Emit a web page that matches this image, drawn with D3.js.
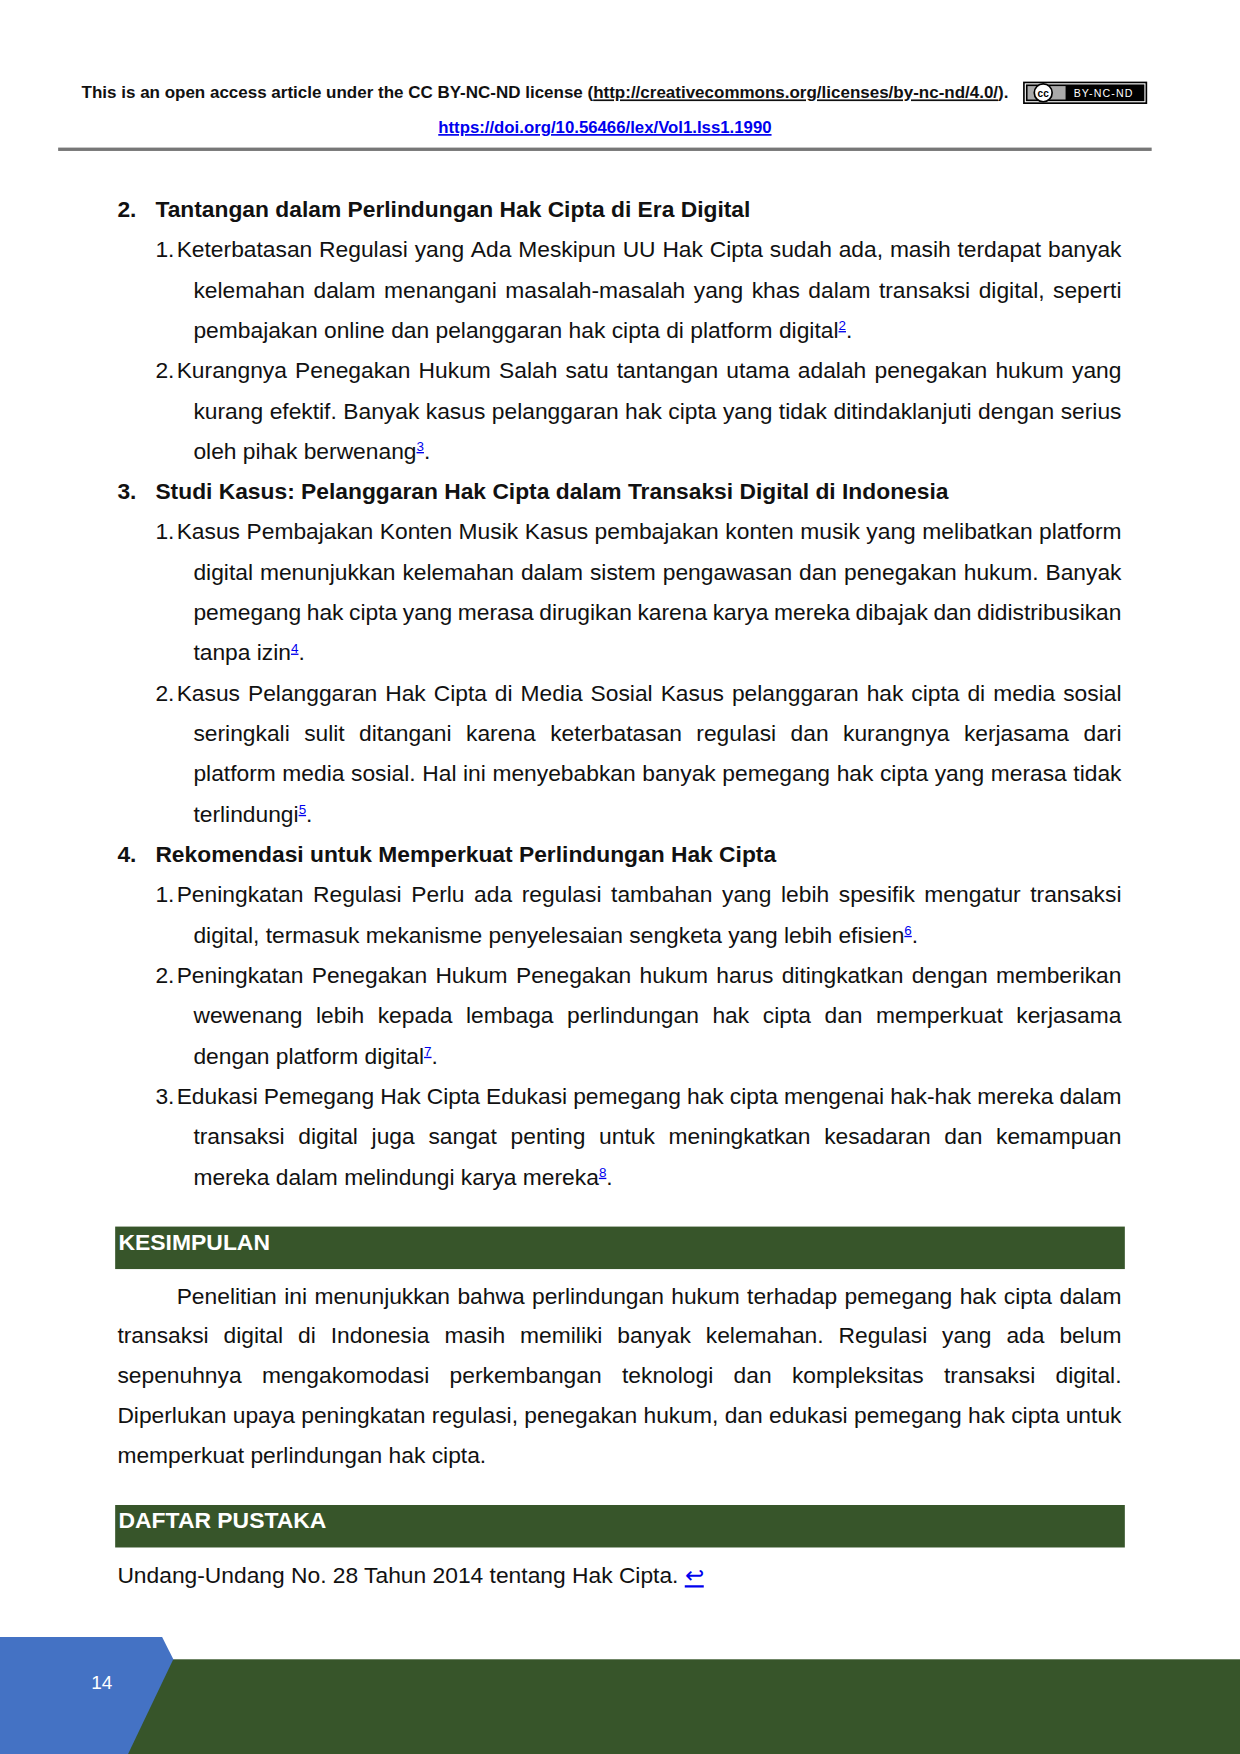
<!DOCTYPE html>
<html><head><meta charset="utf-8">
<script src="https://cdn.jsdelivr.net/npm/d3@7"></script>
<style>body{margin:0;background:#fff}svg{display:block}</style>
</head><body>
<script>
const headerLine = "This is an open access article under the CC BY-NC-ND license (";
const headerLink = "http://creativecommons.org/licenses/by-nc-nd/4.0/";
const doiText = "https://doi.org/10.56466/lex/Vol1.Iss1.1990";
const blocks = [
 {t:"h", n:"2.", text:"Tantangan dalam Perlindungan Hak Cipta di Era Digital"},
 {t:"i", n:"1.", fn:"2", lines:["Keterbatasan Regulasi yang Ada Meskipun UU Hak Cipta sudah ada, masih terdapat banyak","kelemahan dalam menangani masalah-masalah yang khas dalam transaksi digital, seperti","pembajakan online dan pelanggaran hak cipta di platform digital"]},
 {t:"i", n:"2.", fn:"3", lines:["Kurangnya Penegakan Hukum Salah satu tantangan utama adalah penegakan hukum yang","kurang efektif. Banyak kasus pelanggaran hak cipta yang tidak ditindaklanjuti dengan serius","oleh pihak berwenang"]},
 {t:"h", n:"3.", text:"Studi Kasus: Pelanggaran Hak Cipta dalam Transaksi Digital di Indonesia"},
 {t:"i", n:"1.", fn:"4", lines:["Kasus Pembajakan Konten Musik Kasus pembajakan konten musik yang melibatkan platform","digital menunjukkan kelemahan dalam sistem pengawasan dan penegakan hukum. Banyak","pemegang hak cipta yang merasa dirugikan karena karya mereka dibajak dan didistribusikan","tanpa izin"]},
 {t:"i", n:"2.", fn:"5", lines:["Kasus Pelanggaran Hak Cipta di Media Sosial Kasus pelanggaran hak cipta di media sosial","seringkali sulit ditangani karena keterbatasan regulasi dan kurangnya kerjasama dari","platform media sosial. Hal ini menyebabkan banyak pemegang hak cipta yang merasa tidak","terlindungi"]},
 {t:"h", n:"4.", text:"Rekomendasi untuk Memperkuat Perlindungan Hak Cipta"},
 {t:"i", n:"1.", fn:"6", lines:["Peningkatan Regulasi Perlu ada regulasi tambahan yang lebih spesifik mengatur transaksi","digital, termasuk mekanisme penyelesaian sengketa yang lebih efisien"]},
 {t:"i", n:"2.", fn:"7", lines:["Peningkatan Penegakan Hukum Penegakan hukum harus ditingkatkan dengan memberikan","wewenang lebih kepada lembaga perlindungan hak cipta dan memperkuat kerjasama","dengan platform digital"]},
 {t:"i", n:"3.", fn:"8", lines:["Edukasi Pemegang Hak Cipta Edukasi pemegang hak cipta mengenai hak-hak mereka dalam","transaksi digital juga sangat penting untuk meningkatkan kesadaran dan kemampuan","mereka dalam melindungi karya mereka"]}
];
const kesTitle = "KESIMPULAN";
const kesLines = ["Penelitian ini menunjukkan bahwa perlindungan hukum terhadap pemegang hak cipta dalam","transaksi digital di Indonesia masih memiliki banyak kelemahan. Regulasi yang ada belum","sepenuhnya mengakomodasi perkembangan teknologi dan kompleksitas transaksi digital.","Diperlukan upaya peningkatan regulasi, penegakan hukum, dan edukasi pemegang hak cipta untuk","memperkuat perlindungan hak cipta."];
const dafTitle = "DAFTAR PUSTAKA";
const refText = "Undang-Undang No. 28 Tahun 2014 tentang Hak Cipta. ";
const pageNum = "14";

const S = 1240/1109;
const svg = d3.select("body").append("svg").attr("width",1240).attr("height",1754);
const g = svg.append("g").attr("transform",`scale(${S})`);
const FONT = "Liberation Sans, Arial, sans-serif";
const FS = 20.4, GREEN="#37552a", BLUE="#0000ee";

const h1 = g.append("text").attr("x",73).attr("y",88).attr("font-family",FONT).attr("font-size",15.2).attr("font-weight","bold").attr("fill","#111");
h1.append("tspan").text(headerLine);
h1.append("tspan").attr("text-decoration","underline").text(headerLink);
h1.append("tspan").text(").");
g.append("text").attr("x",541).attr("y",119).attr("text-anchor","middle").attr("font-family",FONT).attr("font-size",15).attr("font-weight","bold").attr("fill",BLUE).attr("text-decoration","underline").text(doiText);
const b = g.append("g").attr("transform","translate(915,73)");
b.append("rect").attr("width",111).attr("height",20).attr("fill","#000");
b.append("rect").attr("x",2).attr("y",2).attr("width",107).attr("height",16).attr("fill","none").attr("stroke","#fff").attr("stroke-width",1);
b.append("rect").attr("x",4).attr("y",4).attr("width",34).attr("height",12).attr("fill","#aaa");
b.append("circle").attr("cx",18).attr("cy",10).attr("r",8).attr("fill","#fff").attr("stroke","#000").attr("stroke-width",1.5);
b.append("text").attr("x",18).attr("y",13.5).attr("text-anchor","middle").attr("font-family",FONT).attr("font-weight","bold").attr("font-size",9).text("cc");
b.append("text").attr("x",72).attr("y",14).attr("text-anchor","middle").attr("font-family",FONT).attr("font-size",9.5).attr("fill","#fff").attr("letter-spacing",1).text("BY-NC-ND");
g.append("rect").attr("x",52).attr("y",132).attr("width",978).attr("height",3).attr("fill","#777");

function justify(x0,x1,y,str,bold){
  const words=str.split(" ");
  const gg=g.append("g");
  const nodes=words.map(w=>gg.append("text").attr("y",y).attr("font-family",FONT).attr("font-size",FS).attr("font-weight",bold?"bold":null).attr("fill","#111").text(w));
  const widths=nodes.map(n=>n.node().getComputedTextLength());
  const gap=(x1-x0-d3.sum(widths))/(words.length-1);
  let x=x0; nodes.forEach((n,i)=>{n.attr("x",x); x+=widths[i]+gap;});
}
function plain(x,y,str,fn,bold){
  const t=g.append("text").attr("x",x).attr("y",y).attr("font-family",FONT).attr("font-size",FS).attr("font-weight",bold?"bold":null).attr("fill","#111");
  t.append("tspan").text(str);
  if(fn){t.append("tspan").attr("dy",-7).attr("font-size",12).attr("fill",BLUE).attr("text-decoration","underline").text(fn);
    t.append("tspan").attr("dy",7).text(".");}
  return t;
}
const y0=187+7, step=36.06;
let li=0;
blocks.forEach(bk=>{
  if(bk.t==="h"){ plain(105,y0+li*step,bk.n,null,true); plain(139,y0+li*step,bk.text,null,true); li++; }
  else{
    plain(139,y0+li*step,bk.n);
    bk.lines.forEach((ln,k)=>{
      const x=k===0?158:173, y=y0+li*step, last=k===bk.lines.length-1;
      if(last) plain(x,y,ln,bk.fn); else justify(x,1003,y,ln);
      li++;
    });
  }
});
function bar(y,title){
  g.append("rect").attr("x",103).attr("y",y).attr("width",903).attr("height",38).attr("fill",GREEN);
  g.append("text").attr("x",106).attr("y",y+21).attr("font-family",FONT).attr("font-size",20.5).attr("font-weight","bold").attr("fill","#fff").text(title);
}
bar(1097,kesTitle);
kesLines.forEach((ln,k)=>{
  const y=1159+7+k*35.5;
  if(k===kesLines.length-1) plain(105,y,ln); else justify(k===0?158:105,1003,y,ln);
});
bar(1346,dafTitle);
const rt=plain(105,1409+7,refText);
rt.append("tspan").attr("fill",BLUE).attr("text-decoration","underline").text("↩");
g.append("rect").attr("x",0).attr("y",1484).attr("width",1109).attr("height",90).attr("fill",GREEN);
g.append("path").attr("d","M0,1464 L145,1464 L155,1484 L112,1574 L0,1574 Z").attr("fill","#4472c4");
g.append("text").attr("x",91).attr("y",1511).attr("text-anchor","middle").attr("font-family",FONT).attr("font-size",17).attr("fill","#fff").text(pageNum);
</script>
</body></html>
